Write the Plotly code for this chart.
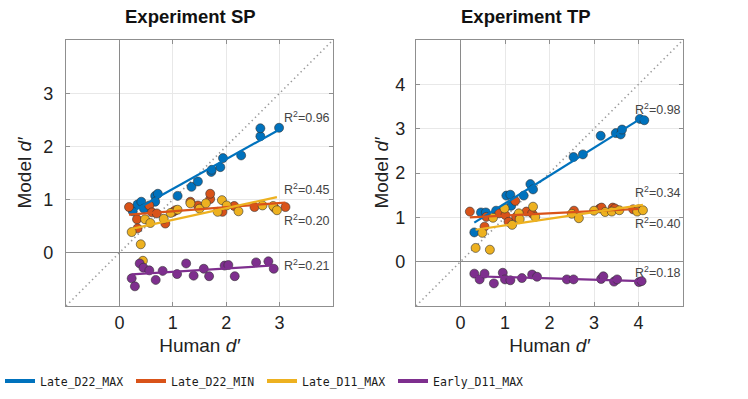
import numpy as np
import plotly.graph_objects as go

# ---------------- data ----------------
series_names = ["Late_D22_MAX", "Late_D22_MIN", "Late_D11_MAX", "Early_D11_MAX"]
series_colors = ["#0072BD", "#D95319", "#EDB120", "#7E2F8E"]

# Experiment SP
sp_blue_x = [0.25, 0.34, 0.41, 0.46, 0.67, 0.72, 0.67, 1.09, 1.35, 1.47, 1.72, 1.73, 1.89, 1.94, 2.28, 2.64, 2.64, 2.99]
sp_blue_y = [0.78, 0.91, 0.96, 0.83, 1.07, 1.11, 0.96, 1.07, 1.24, 1.34, 1.52, 1.56, 1.61, 1.78, 1.83, 2.19, 2.34, 2.35]
sp_orange_x = [0.18, 0.33, 0.34, 0.56, 0.61, 0.70, 0.86, 1.01, 1.33, 1.47, 1.70, 1.70, 1.93, 2.15, 2.53, 3.11, 1.05, 2.90]
sp_orange_y = [0.86, 0.63, 0.46, 0.89, 0.76, 0.74, 0.55, 0.77, 0.96, 0.89, 1.01, 1.11, 0.77, 0.88, 0.86, 0.86, 0.80, 0.85]
sp_yellow_x = [0.23, 0.40, 0.48, 0.58, 0.83, 0.96, 1.09, 1.33, 1.50, 1.62, 1.84, 1.92, 2.01, 2.23, 2.68, 2.88, 2.95, 0.44]
sp_yellow_y = [0.39, 0.16, 0.63, 0.56, 0.64, 0.75, 0.81, 0.93, 0.83, 0.93, 0.77, 0.99, 0.89, 0.78, 0.89, 0.88, 0.80, -0.15]
sp_purple_x = [0.23, 0.29, 0.38, 0.45, 0.56, 0.68, 0.81, 1.08, 1.25, 1.39, 1.58, 1.68, 1.97, 2.04, 2.16, 2.56, 2.79, 2.89]
sp_purple_y = [-0.48, -0.63, -0.20, -0.28, -0.33, -0.51, -0.34, -0.40, -0.20, -0.43, -0.30, -0.44, -0.24, -0.23, -0.44, -0.18, -0.16, -0.30]
sp_fit_slope = [0.56, 0.077, 0.219, 0.063]
sp_fit_intercept = [0.64, 0.705, 0.40, -0.42]
sp_r2 = ["0.96", "0.20", "0.45", "0.21"]
sp_r2_pos = [(3.05, 2.55), (3.05, 0.61), (3.05, 1.19), (3.05, -0.22)]

# Experiment TP
tp_blue_x = [0.31, 0.46, 0.57, 0.80, 1.03, 1.12, 1.14, 1.42, 1.57, 1.63, 2.54, 2.75, 3.15, 3.49, 3.60, 3.63, 4.03, 4.13]
tp_blue_y = [0.66, 1.11, 1.11, 1.15, 1.49, 1.51, 1.26, 1.49, 1.75, 1.63, 2.36, 2.42, 2.84, 2.90, 2.87, 2.98, 3.22, 3.19]
tp_orange_x = [0.21, 0.54, 0.58, 0.87, 1.01, 1.08, 1.23, 1.25, 1.48, 1.61, 2.55, 3.13, 3.17, 3.42, 3.47, 3.88, 4.00]
tp_orange_y = [1.13, 0.79, 1.01, 1.09, 1.05, 0.90, 1.37, 1.01, 1.13, 1.09, 1.15, 1.20, 1.22, 1.22, 1.20, 1.18, 1.18]
tp_yellow_x = [0.34, 0.49, 0.66, 0.73, 0.99, 1.16, 1.31, 1.33, 1.63, 1.68, 2.50, 2.66, 3.00, 3.25, 3.40, 3.57, 3.97, 4.10]
tp_yellow_y = [0.31, 0.65, 0.27, 0.99, 1.20, 0.83, 1.09, 0.96, 1.24, 1.01, 1.08, 0.98, 1.15, 1.12, 1.13, 1.16, 1.13, 1.16]
tp_purple_x = [0.31, 0.43, 0.54, 0.75, 0.95, 1.00, 1.12, 1.38, 1.61, 1.72, 2.39, 2.54, 3.16, 3.21, 3.45, 3.52, 4.01, 4.07]
tp_purple_y = [-0.27, -0.40, -0.27, -0.49, -0.25, -0.40, -0.42, -0.37, -0.29, -0.34, -0.40, -0.40, -0.39, -0.33, -0.45, -0.40, -0.46, -0.44]
tp_fit_slope = [0.628, 0.05, 0.149, -0.029]
tp_fit_intercept = [0.685, 0.99, 0.67, -0.32]
tp_r2 = ["0.98", "0.34", "0.40", "0.18"]
tp_r2_pos = [(3.87, 3.45), (3.87, 1.57), (3.87, 0.88), (3.87, -0.23)]

panel_titles = ["Experiment SP", "Experiment TP"]
sp_range = [-1, 4]
tp_range = [-1, 5]
sp_ticks = [0, 1, 2, 3]
tp_ticks = [0, 1, 2, 3, 4]

# ---------------- figure ----------------
fig = go.Figure()

panels = [
    dict(xs=[sp_blue_x, sp_orange_x, sp_yellow_x, sp_purple_x],
         ys=[sp_blue_y, sp_orange_y, sp_yellow_y, sp_purple_y],
         slope=sp_fit_slope, icpt=sp_fit_intercept, r2=sp_r2, r2pos=sp_r2_pos,
         rng=sp_range, xa="x", ya="y"),
    dict(xs=[tp_blue_x, tp_orange_x, tp_yellow_x, tp_purple_x],
         ys=[tp_blue_y, tp_orange_y, tp_yellow_y, tp_purple_y],
         slope=tp_fit_slope, icpt=tp_fit_intercept, r2=tp_r2, r2pos=tp_r2_pos,
         rng=tp_range, xa="x2", ya="y2"),
]

annotations = []
for pi, p in enumerate(panels):
    # identity diagonal
    fig.add_trace(go.Scatter(x=p["rng"], y=p["rng"], mode="lines", xaxis=p["xa"], yaxis=p["ya"],
                             line=dict(color="#9a9a9a", width=1.6, dash="1.4px,3.2px"),
                             showlegend=False, hoverinfo="skip"))
    for si in range(4):
        fig.add_trace(go.Scatter(x=p["xs"][si], y=p["ys"][si], mode="markers",
                                 xaxis=p["xa"], yaxis=p["ya"],
                                 marker=dict(size=9, color=series_colors[si],
                                             line=dict(color="#333333", width=0.6)),
                                 showlegend=False))
    for si in range(4):
        xx = np.array([min(p["xs"][si]), max(p["xs"][si])])
        yy = p["slope"][si] * xx + p["icpt"][si]
        fig.add_trace(go.Scatter(x=xx, y=yy, mode="lines", xaxis=p["xa"], yaxis=p["ya"],
                                 line=dict(color=series_colors[si], width=2.2),
                                 name=series_names[si], legendgroup=series_names[si],
                                 showlegend=False))
    for si in range(4):
        annotations.append(dict(x=p["r2pos"][si][0], y=p["r2pos"][si][1],
                                xref=p["xa"], yref=p["ya"], xanchor="left", yanchor="middle",
                                text="R<sup>2</sup>=" + p["r2"][si], showarrow=False,
                                font=dict(size=12.5, color="#444444")))

# legend entries (thicker line keys, as in the reference)
for si in range(4):
    fig.add_trace(go.Scatter(x=[None], y=[None], mode="lines",
                             line=dict(color=series_colors[si], width=4),
                             name=series_names[si], legendgroup=series_names[si],
                             showlegend=True))

# panel titles
for cx, t in zip([190 / 748, 526 / 748], panel_titles):
    annotations.append(dict(x=cx, y=1 - 16 / 399, xref="paper", yref="paper",
                            text="<b>" + t + "</b>", showarrow=False,
                            xanchor="center", yanchor="middle",
                            font=dict(size=18.5, color="#111111")))

axis_common = dict(showgrid=True, gridcolor="#e8e8e8", gridwidth=1,
                   zeroline=True, zerolinecolor="#8a8a8a", zerolinewidth=1.2,
                   showline=True, linecolor="#8f8f8f", linewidth=1.2, mirror="allticks",
                   ticks="inside", ticklen=4, tickcolor="#8f8f8f",
                   tickfont=dict(size=18, color="#222222"),
                   automargin=False)

fig.update_layout(
    width=748, height=399,
    margin=dict(l=0, r=0, t=0, b=0),
    paper_bgcolor="white", plot_bgcolor="white",
    font=dict(family="Liberation Sans, Arial, sans-serif", color="#222222"),
    xaxis=dict(domain=[66 / 748, 333 / 748], range=sp_range, tickvals=sp_ticks,
               title=dict(text="Human <i>d′</i>", font=dict(size=19), standoff=6),
               anchor="y", **axis_common),
    yaxis=dict(domain=[93 / 399, 359 / 399], range=sp_range, tickvals=sp_ticks,
               title=dict(text="Model <i>d′</i>", font=dict(size=19), standoff=6),
               ticklabelstandoff=8, anchor="x", **axis_common),
    xaxis2=dict(domain=[416 / 748, 683 / 748], range=tp_range, tickvals=tp_ticks,
                title=dict(text="Human <i>d′</i>", font=dict(size=19), standoff=6),
                anchor="y2", **axis_common),
    yaxis2=dict(domain=[93 / 399, 359 / 399], range=tp_range, tickvals=tp_ticks,
                title=dict(text="Model <i>d′</i>", font=dict(size=19), standoff=1),
                ticklabelstandoff=6, anchor="x2", **axis_common),
    legend=dict(orientation="h", x=0, xanchor="left", y=(399 - 381) / 399, yanchor="middle",
                font=dict(family="DejaVu Sans Mono", size=11.5, color="#1a1a1a"),
                entrywidth=86, bgcolor="rgba(0,0,0,0)", tracegroupgap=0),
    annotations=annotations,
    showlegend=True,
)

fig.write_html("out.html")
